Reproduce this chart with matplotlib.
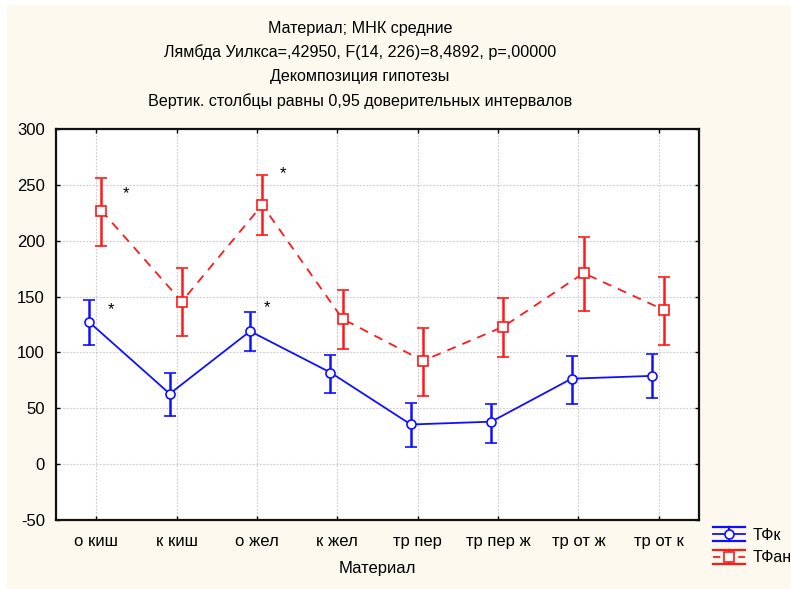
import matplotlib
matplotlib.use("Agg")
import matplotlib.pyplot as plt
from matplotlib.lines import Line2D
from matplotlib.patches import Rectangle
from matplotlib.legend_handler import HandlerBase
import numpy as np

plt.rcParams['font.family'] = ['Liberation Sans', 'DejaVu Sans']
plt.rcParams['axes.unicode_minus'] = False

categories = ["о киш", "к киш", "о жел", "к жел", "тр пер", "тр пер ж", "тр от ж", "тр от к"]

tfk_mean = [127, 63, 119, 82, 35.5, 38, 76.5, 79]
tfk_low = [107, 43, 101, 63.5, 15.5, 19, 54, 59]
tfk_high = [147, 82, 136, 98, 54.5, 54, 97, 99]

tfan_mean = [227, 145.5, 232, 130, 92.5, 123, 171, 138]
tfan_low = [195, 115, 205, 103, 61, 96, 137, 107]
tfan_high = [256, 176, 259, 156, 122, 149, 203, 167.5]

# significance marks: (category index, offset, y value)
stars = [(0, 0.37, 242), (0, 0.19, 138), (2, 0.32, 260), (2, 0.12, 140)]

title_lines = [
    "Материал; МНК средние",
    "Лямбда Уилкса=,42950, F(14, 226)=8,4892, p=,00000",
    "Декомпозиция гипотезы",
    "Вертик. столбцы равны 0,95 доверительных интервалов",
]
y_ticks = [-50, 0, 50, 100, 150, 200, 250, 300]

BLUE = "#1010ff"
RED = "#ff1a1a"
BG = "#fdf9ee"

fig = plt.figure(figsize=(7.91, 5.89), dpi=100)
fig.patch.set_facecolor("white")
fig.patches.append(Rectangle((7 / 791, 0), 1, 1 - 5 / 589, transform=fig.transFigure,
                             facecolor=BG, edgecolor="none", zorder=-10))

ax = fig.add_axes([56 / 791, 1 - 520 / 589, (699 - 56) / 791, (520 - 129) / 589])
ax.set_facecolor("white")

x = np.arange(len(categories))
xb = x - 0.085
xr = x + 0.065


def draw_series(xs, mean, low, high, color, ls, marker):
    mean = np.asarray(mean)
    yerr = [mean - np.asarray(low), np.asarray(high) - mean]
    ax.errorbar(xs, mean, yerr=yerr, color=color, ls=ls, lw=1.3,
                elinewidth=1.8, capsize=4.5, capthick=1.8,
                marker=marker, markersize=6.5, markerfacecolor="white",
                markeredgecolor=color, markeredgewidth=1.2, zorder=3,
                dashes=(5, 4) if ls == "--" else (None, None))


draw_series(xb, tfk_mean, tfk_low, tfk_high, BLUE, "-", "o")
draw_series(xr, tfan_mean, tfan_low, tfan_high, RED, "--", "s")

for ci, off, yv in stars:
    ax.text(ci + off, yv, "*", ha="center", va="center", fontsize=12, color="black")

ax.set_xlim(-0.5, len(categories) - 0.5)
ax.set_ylim(-50, 300)
ax.set_yticks(y_ticks)
ax.set_xticks(x)
ax.set_xticklabels(categories)
ax.grid(True, color="#c8c8c8", ls=(0, (1.5, 1.5)), lw=0.8)
ax.set_axisbelow(True)
ax.tick_params(direction="in", length=3, width=1, top=True, right=True,
               labelsize=12, colors="black")
ax.tick_params(axis="y", pad=8)
ax.tick_params(axis="x", pad=10)
for s in ax.spines.values():
    s.set_linewidth(1.6)
    s.set_color("#111111")

ax.set_xlabel("Материал", fontsize=12, labelpad=9)

for i, line in enumerate(title_lines):
    fig.text(360 / 791, 1 - (28 + 24.3 * i) / 589, line, ha="center", va="center",
             fontsize=11.6)


class ErrorbarKey(HandlerBase):
    def __init__(self, color, ls, marker):
        super().__init__()
        self.color = color
        self.ls = ls
        self.marker = marker

    def create_artists(self, legend, orig_handle, xdescent, ydescent, width, height,
                       fontsize, trans):
        cy = height / 2 - ydescent
        h = height * 0.62
        x0, x1 = -xdescent, -xdescent + width
        xc = (x0 + x1) / 2
        arts = [
            Line2D([x0, x1], [cy + h, cy + h], color=self.color, lw=1.6),
            Line2D([x0, x1], [cy - h, cy - h], color=self.color, lw=1.6),
            Line2D([xc, xc], [cy - h, cy + h], color=self.color, lw=1.6),
            Line2D([x0, x1], [cy, cy], color=self.color, lw=1.3, ls=self.ls,
                   dashes=(4, 3) if self.ls == "--" else (None, None)),
            Line2D([xc], [cy], marker=self.marker, color=self.color, markersize=6.5,
                   markerfacecolor="white", markeredgewidth=1.2, ls="none"),
        ]
        for a in arts:
            a.set_transform(trans)
        return arts


hk = Line2D([], [])
ha = Line2D([], [])
fig.legend([hk, ha], ["ТФк", "ТФан"],
           handler_map={hk: ErrorbarKey(BLUE, "-", "o"), ha: ErrorbarKey(RED, "--", "s")},
           loc="upper left", bbox_to_anchor=(713 / 791, 1 - 528 / 589),
           frameon=False, fontsize=11.5, handlelength=2.0, handletextpad=0.5,
           labelspacing=0.45, borderpad=0, borderaxespad=0)

fig.savefig("out.png", dpi=100, facecolor=fig.get_facecolor())
